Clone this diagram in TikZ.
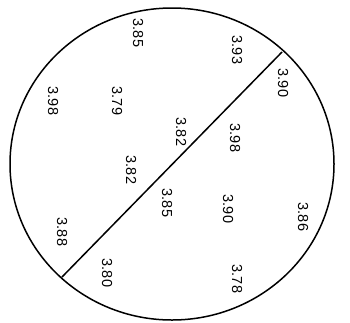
\documentclass[tikz,border=0pt]{standalone}
\usepackage{fontspec}
\setmainfont{Liberation Sans}
\usetikzlibrary{positioning, shapes.geometric}

\begin{document}
\begin{tikzpicture}[
          x=1pt, y=-1pt,
          val/.style={rotate=-90, inner sep=0pt, font=\fontsize{14.5}{14.5}\selectfont},
          rim/.style={line width=1.5pt},
        ]
        \useasboundingbox (0,0) rectangle (350,322);
        \node[draw, rim, ellipse, minimum width=324pt, minimum height=312pt, inner sep=0pt] (wafer) at (172,164) {};

        \coordinate (cutA) at (62,277);
        \coordinate (cutB) at (282,52);
        \draw[rim] (cutA) -- (cutB);

        % upper-left half
        \node[val] (a1) at (138,33)  {3.85};
        \node[val] (a2) at (53,101)  {3.98};
        \node[val] (a3) at (117,101) {3.79};
        \node[val] (a4) at (181,132) {3.82};
        \node[val] (a5) at (237,50)  {3.93};
        \node[val] (a6) at (131,170) {3.82};
        \node[val] (a7) at (62,232)  {3.88};

        % lower-right half
        \node[val] (b1) at (283,83)  {3.90};
        \node[val] (b2) at (235,138) {3.98};
        \node[val] (b3) at (167,203) {3.85};
        \node[val] (b4) at (228,209) {3.90};
        \node[val] (b5) at (303,217) {3.86};
        \node[val] (b6) at (107,273) {3.80};
        \node[val] (b7) at (237,279) {3.78};
      \end{tikzpicture}
\end{document}
